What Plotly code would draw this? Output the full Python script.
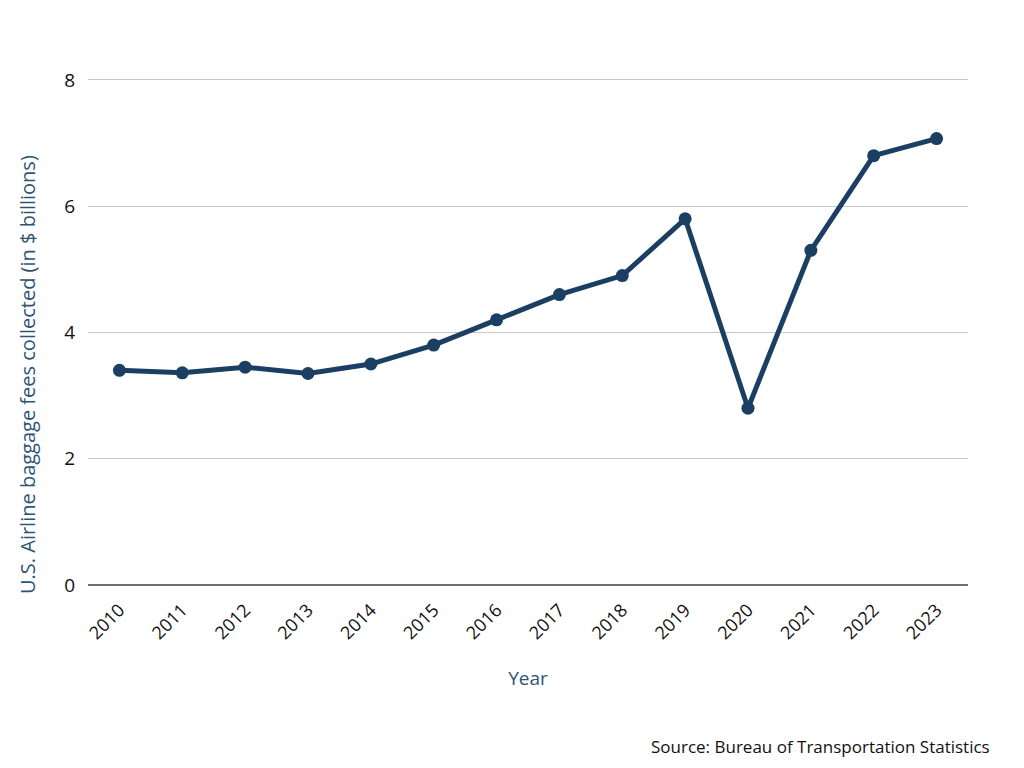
import plotly.graph_objects as go

years = ["2010", "2011", "2012", "2013", "2014", "2015", "2016", "2017",
         "2018", "2019", "2020", "2021", "2022", "2023"]
fees = [3.40, 3.36, 3.45, 3.35, 3.50, 3.80, 4.20, 4.60, 4.90, 5.80, 2.80, 5.30, 6.80, 7.07]
y_ticks = [0, 2, 4, 6, 8]

LINE = "#1B3F63"
FONT = "Open Sans, Lato, sans-serif"

# page body adds an 8px offset; margins compensate so the plot sits at x 88-968, y 78-585
L, R, T, B = 80, 64, 70, 191
plot_h = 768 - T - B
plot_w = 1024 - L - R
plot_bottom = 768 - B

fig = go.Figure()
fig.add_trace(go.Scatter(
    x=years, y=fees, mode="lines+markers",
    line=dict(color=LINE, width=5),
    marker=dict(color=LINE, size=13),
    showlegend=False,
))

fig.update_layout(
    width=1024, height=768,
    margin=dict(l=L, r=R, t=T, b=B),
    paper_bgcolor="white", plot_bgcolor="white",
    font=dict(family=FONT, size=17, color="#222222"),
    xaxis=dict(
        type="category", range=[-0.5, len(years) - 0.5],
        tickangle=-45, showgrid=False, automargin=False,
        ticks="", ticklabelstandoff=10, tickfont=dict(size=18, color="#111111"),
        title=dict(text="Year", font=dict(size=19, color="#2E5475"), standoff=28),
    ),
    yaxis=dict(
        range=[0, 8.03], tickvals=y_ticks, showgrid=True, gridcolor="#C8C8C8",
        gridwidth=1, zeroline=True, zerolinecolor="#707070", zerolinewidth=1.5,
        automargin=False, ticks="", ticklen=0, ticklabelstandoff=12,
        tickfont=dict(size=19, color="#111111"),
    ),
    annotations=[
        dict(
            text="U.S. Airline baggage fees collected (in $ billions)",
            xref="paper", yref="paper", x=(19 - L) / plot_w, y=(plot_bottom - 367) / plot_h,
            xanchor="center", yanchor="middle", textangle=-90, showarrow=False,
            font=dict(size=20, color="#2E5475"),
        ),
        dict(
            text="Source: Bureau of Transportation Statistics",
            xref="paper", yref="paper", x=(984 - L) / plot_w, y=-(738 - plot_bottom) / plot_h,
            xanchor="right", yanchor="middle", showarrow=False,
            font=dict(size=17, color="#111111"),
        ),
    ],
)

fig.write_html("out.html")
